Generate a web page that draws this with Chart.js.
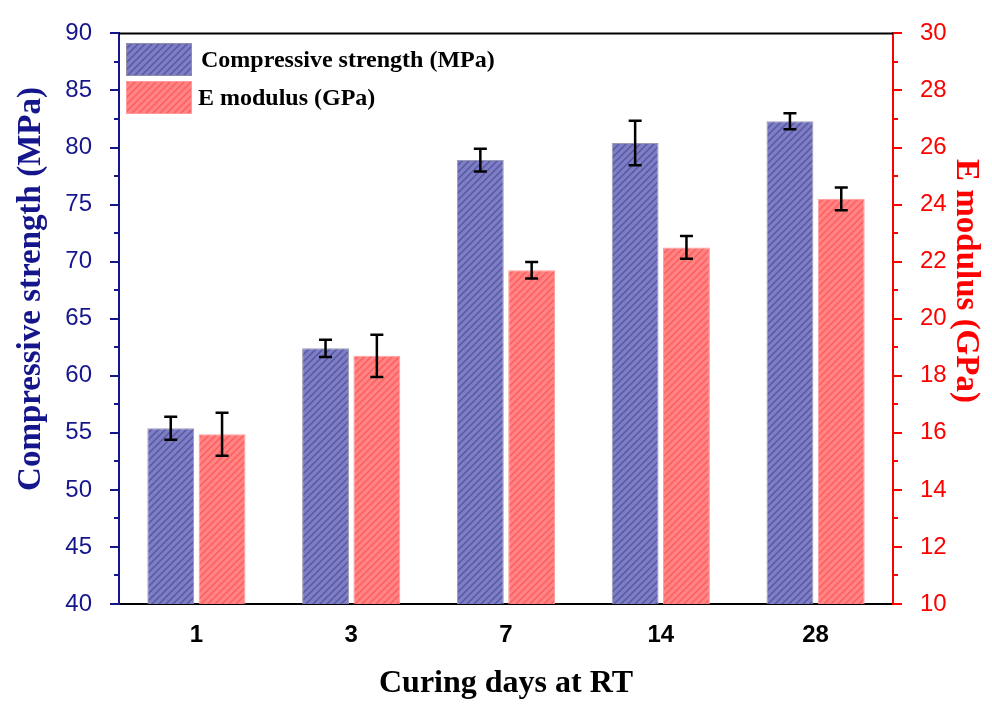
<!DOCTYPE html>
<html>
<head>
<meta charset="utf-8">
<script src="https://cdn.jsdelivr.net/npm/chart.js@4.4.0/dist/chart.umd.min.js"></script>
<style>
  html, body { margin: 0; padding: 0; background: #fff; }
  #wrap { width: 992px; height: 704px; }
</style>
</head>
<body>
<div id="wrap"><canvas id="chart" width="992" height="704"></canvas></div>
<script>
// Data
const days = ['1', '3', '7', '14', '28'];
const strength = [55.4, 62.4, 78.9, 80.4, 82.3];
const strengthErr = [1.0, 0.75, 1.0, 1.95, 0.7];
const modulus = [15.95, 18.7, 21.7, 22.5, 24.2];
const modulusErr = [0.75, 0.74, 0.29, 0.4, 0.4];

const navy = '#16168c';
const red = '#ff0000';
const sans = "'Liberation Sans', Arial, sans-serif";
const serif = "'Liberation Serif', 'Times New Roman', serif";

// diagonal hatch fill like the original plot
function hatch(base, stripe) {
    const n = 7;
    const c = document.createElement('canvas');
    c.width = n; c.height = n;
    const g = c.getContext('2d');
    g.fillStyle = base;
    g.fillRect(0, 0, n, n);
    g.strokeStyle = stripe;
    g.lineWidth = 1.5;
    g.beginPath();
    g.moveTo(0, n); g.lineTo(n, 0);
    g.moveTo(-1, 1); g.lineTo(1, -1);
    g.moveTo(n - 1, n + 1); g.lineTo(n + 1, n - 1);
    g.stroke();
    return g.createPattern(c, 'repeat');
}
const bluePattern = hatch('#7e7ec6', '#5858a0');
const redPattern = hatch('#ff8484', '#ff5c5c');

// error bars, drawn through each dataset's own y scale
const errorBars = {
    id: 'errorBars',
    afterDatasetsDraw(chart) {
        const ctx = chart.ctx;
        const errs = [strengthErr, modulusErr];
        ctx.save();
        ctx.strokeStyle = '#000';
        ctx.lineWidth = 2.5;
        chart.data.datasets.forEach((ds, i) => {
            const meta = chart.getDatasetMeta(i);
            const ys = chart.scales[meta.yAxisID];
            meta.data.forEach((bar, j) => {
                const v = ds.data[j], e = errs[i][j];
                const top = ys.getPixelForValue(v + e);
                const bot = ys.getPixelForValue(v - e);
                ctx.beginPath();
                ctx.moveTo(bar.x, top); ctx.lineTo(bar.x, bot);
                ctx.moveTo(bar.x - 6.5, top); ctx.lineTo(bar.x + 6.5, top);
                ctx.moveTo(bar.x - 6.5, bot); ctx.lineTo(bar.x + 6.5, bot);
                ctx.stroke();
            });
        });
        ctx.restore();
    }
};

// major + minor tick marks, top frame line, axis titles and in-plot legend
const decorations = {
    id: 'decorations',
    afterDraw(chart) {
        const ctx = chart.ctx;
        const area = chart.chartArea;
        const yl = chart.scales.y, yr = chart.scales.y2;
        ctx.save();
        ctx.lineWidth = 2;

        ctx.strokeStyle = navy;
        ctx.beginPath();
        for (let v = 40; v <= 90; v += 2.5) {
            const py = Math.round(yl.getPixelForValue(v));
            const len = v % 5 === 0 ? 9 : 5;
            ctx.moveTo(area.left, py); ctx.lineTo(area.left - len, py);
        }
        ctx.stroke();

        ctx.strokeStyle = red;
        ctx.beginPath();
        for (let v = 10; v <= 30; v += 1) {
            const py = Math.round(yr.getPixelForValue(v));
            const len = v % 2 === 0 ? 9 : 5;
            ctx.moveTo(area.right, py); ctx.lineTo(area.right + len, py);
        }
        ctx.stroke();

        ctx.strokeStyle = '#000';
        ctx.beginPath();
        ctx.moveTo(area.left, area.top); ctx.lineTo(area.right, area.top);
        ctx.stroke();

        // y axis titles (sit a bit above the axis middle in the original)
        ctx.font = 'bold 33px ' + serif;
        ctx.textAlign = 'center';
        ctx.textBaseline = 'middle';
        ctx.save();
        ctx.translate(31, 289);
        ctx.rotate(-Math.PI / 2);
        ctx.fillStyle = navy;
        ctx.fillText('Compressive strength (MPa)', 0, 0);
        ctx.restore();
        ctx.save();
        ctx.translate(966, 281);
        ctx.rotate(Math.PI / 2);
        ctx.fillStyle = red;
        ctx.fillText('E modulus (GPa)', 0, 0);
        ctx.restore();

        // legend
        const items = [
            { fill: bluePattern, border: '#8e8eaa', text: 'Compressive strength (MPa)', x: 201, y: 43 },
            { fill: redPattern, border: '#ff9a9a', text: 'E modulus (GPa)', x: 198, y: 81 }
        ];
        ctx.lineWidth = 1;
        ctx.font = 'bold 24px ' + serif;
        ctx.textAlign = 'left';
        items.forEach(it => {
            ctx.fillStyle = it.fill;
            ctx.fillRect(126, it.y, 65, 32);
            ctx.strokeStyle = it.border;
            ctx.strokeRect(126.5, it.y + 0.5, 65, 32);
            ctx.fillStyle = '#000';
            ctx.fillText(it.text, it.x, it.y + 18);
        });
        ctx.restore();
    }
};

new Chart(document.getElementById('chart'), {
    type: 'bar',
    data: {
        labels: days,
        datasets: [
            {
                label: 'Compressive strength (MPa)',
                data: strength,
                yAxisID: 'y',
                backgroundColor: bluePattern,
                borderColor: '#9a9ab4',
                borderWidth: 1,
                categoryPercentage: 0.663,
                barPercentage: 0.913
            },
            {
                label: 'E modulus (GPa)',
                data: modulus,
                yAxisID: 'y2',
                backgroundColor: redPattern,
                borderColor: '#ff9a9a',
                borderWidth: 1,
                categoryPercentage: 0.663,
                barPercentage: 0.913
            }
        ]
    },
    options: {
        responsive: false,
        animation: false,
        layout: { padding: { top: 25, left: 0, right: 0, bottom: 0 } },
        plugins: {
            legend: { display: false },
            tooltip: { enabled: false }
        },
        scales: {
            x: {
                grid: { display: false },
                border: { color: '#000', width: 2 },
                ticks: {
                    color: '#000',
                    padding: 9,
                    font: { family: sans, size: 24, weight: 'bold' }
                },
                title: {
                    display: true,
                    text: 'Curing days at RT',
                    color: '#000',
                    font: { family: serif, size: 32, weight: 'bold' },
                    padding: { top: 0, bottom: 1 }
                },
                afterFit: s => { s.height = 100; }
            },
            y: {
                position: 'left',
                min: 40,
                max: 90,
                grid: { display: false },
                border: { color: navy, width: 2 },
                ticks: {
                    stepSize: 5,
                    color: navy,
                    padding: 19,
                    font: { family: sans, size: 24 }
                },
                afterFit: s => { s.width = 119; }
            },
            y2: {
                position: 'right',
                min: 10,
                max: 30,
                grid: { display: false },
                border: { color: red, width: 2 },
                ticks: {
                    stepSize: 2,
                    color: red,
                    padding: 19,
                    font: { family: sans, size: 24 }
                },
                afterFit: s => { s.width = 99; }
            }
        }
    },
    plugins: [errorBars, decorations]
});
</script>
</body>
</html>
